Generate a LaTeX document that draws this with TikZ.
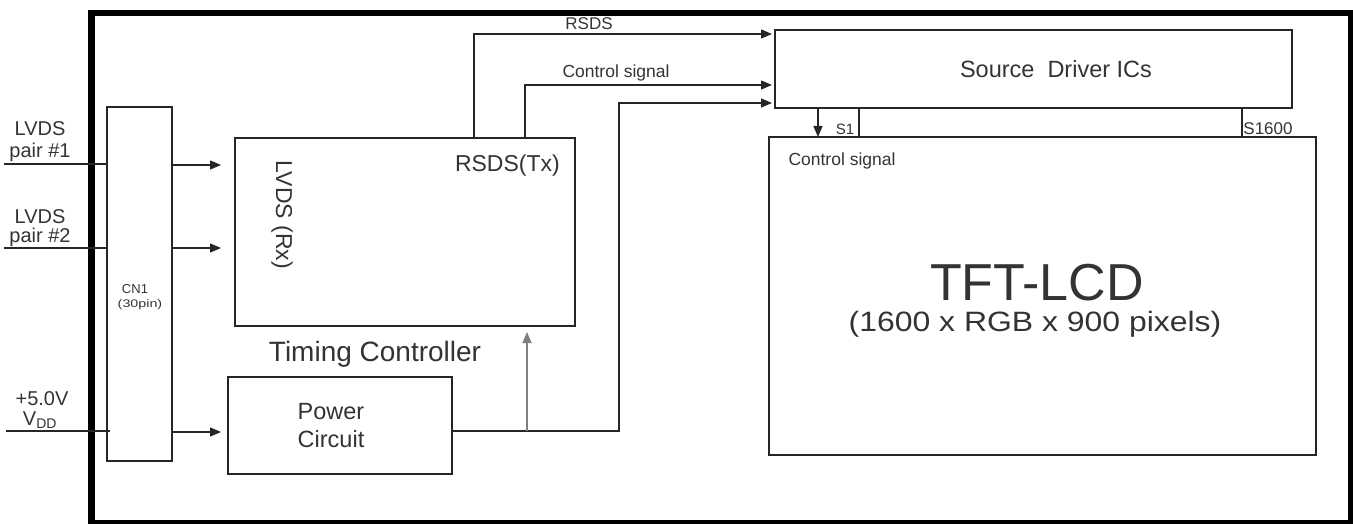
\documentclass[tikz,border=0pt]{standalone}
\usepackage{fontspec}
\setmainfont{Liberation Sans}
\usetikzlibrary{arrows.meta}
\newcommand\fsz[1]{\fontsize{#1}{#1}\selectfont}
\begin{document}
\begin{tikzpicture}[x=1pt,y=-1pt,
  box/.style={draw=black!85, line width=1.5pt, inner sep=0pt, outer sep=0pt, anchor=north west},
  wire/.style={draw=black!85, line width=1.4pt},
  arr/.style={wire, -{Triangle[length=11pt,width=9pt]}},
  garr/.style={draw=black!50, line width=1.4pt, -{Triangle[length=11pt,width=9pt]}},
  txt/.style={text=black!80, inner sep=0pt, anchor=base}]
\useasboundingbox (0,0) rectangle (1353,524);
% outer frame
\node[draw=black, line width=6.5pt, inner sep=0pt, minimum width=1260pt, minimum height=510pt, anchor=north west] (frame) at (88,10) {};
% boxes
\node[box, minimum width=65pt, minimum height=354pt] (cn1) at (107,107) {};
\node[box, minimum width=340pt, minimum height=188pt] (tc) at (235,138) {};
\node[box, minimum width=224pt, minimum height=97pt] (pw) at (228,377) {};
\node[box, minimum width=517pt, minimum height=78pt] (sd) at (775,30) {};
\node[box, minimum width=547pt, minimum height=318pt] (tft) at (769,137) {};
% free ends of inputs
\coordinate (in1) at (4,164);
\coordinate (in2) at (4,248);
\coordinate (in3) at (6,431);
\draw[wire] (in1) -- (cn1.west |- in1);
\draw[wire] (in2) -- (cn1.west |- in2);
\draw[wire] (in3) -- ([xshift=3pt]cn1.west |- in3);
% arrows CN1 -> TC / Power
\draw[arr, shorten >=14pt] (cn1.east |- 0,165) -- (tc.west |- 0,165);
\draw[arr, shorten >=14pt] (cn1.east |- 0,248) -- (tc.west |- 0,248);
\draw[arr, shorten >=7pt] (cn1.east |- 0,432) -- (pw.west |- 0,432);
% TC -> SD
\draw[arr, shorten >=3pt] (tc.north -| 474,0) -- (474,34) -- (sd.west |- 0,34);
\draw[arr, shorten >=3pt] (tc.north -| 525,0) -- (525,85) -- (sd.west |- 0,85);
% Power -> SD and TC
\draw[arr, shorten >=3pt] (pw.east |- 0,431) -- (619,431) -- (619,103) -- (sd.west |- 0,103);
\draw[garr, shorten >=6pt] (527,431) -- (tc.south -| 527,0);
% SD -> TFT
\draw[arr] (sd.south -| 818,0) -- (tft.north -| 818,0);
\draw[wire] (sd.south -| 859,0) -- (tft.north -| 859,0);
\draw[wire] (sd.south -| 1242,0) -- (tft.north -| 1242,0);
% texts
\node[txt] (l1a) at (40,136) {\fsz{20}LVDS};
\node[txt] (l1b) at (40,158) {\fsz{20}pair \#1};
\node[txt] (l2a) at (40,223) {\fsz{20}LVDS};
\node[txt] (l2b) at (40,243) {\fsz{20}pair \#2};
\node[txt] (l3a) at (42,405) {\fsz{20}+5.0V};
\node[txt] (l3b) at (40,425) {\fsz{20}V\textsubscript{DD}};
\node[txt] (cn1t) at (135,293) {\fsz{13}CN1};
\node[txt, xscale=1.3] (cn1p) at (140,307) {\fsz{11}(30pin)};
\node[text=black!80, inner sep=0pt, rotate=-90] (rx) at (282,215) {\fsz{23}LVDS (Rx)};
\node[txt, anchor=base east] (tx) at (560,172) {\fsz{23}RSDS(Tx)};
\node[txt] (tct) at (375,361) {\fsz{28}Timing Controller};
\node[txt] (pw1) at (331,419) {\fsz{23.5}Power};
\node[txt] (pw2) at (331,447) {\fsz{23.5}Circuit};
\node[txt] (sdt) at (1056,78) {\fsz{23.5}Source\ \ Driver ICs};
\node[txt] (tftt) at (1037,300) {\fsz{52}TFT-LCD};
\node[txt, xscale=1.14] (tftp) at (1035,331) {\fsz{28}(1600 x RGB x 900 pixels)};
\node[txt] (rsds) at (589,30) {\fsz{17}RSDS};
\node[txt] (cs1) at (616,78) {\fsz{17.5}Control signal};
\node[txt] (s1) at (845,135) {\fsz{15}S1};
\node[txt] (s1600) at (1268,135) {\fsz{17}S1600};
\node[txt] (cs2) at (842,166) {\fsz{17.5}Control signal};
\end{tikzpicture}
\end{document}
